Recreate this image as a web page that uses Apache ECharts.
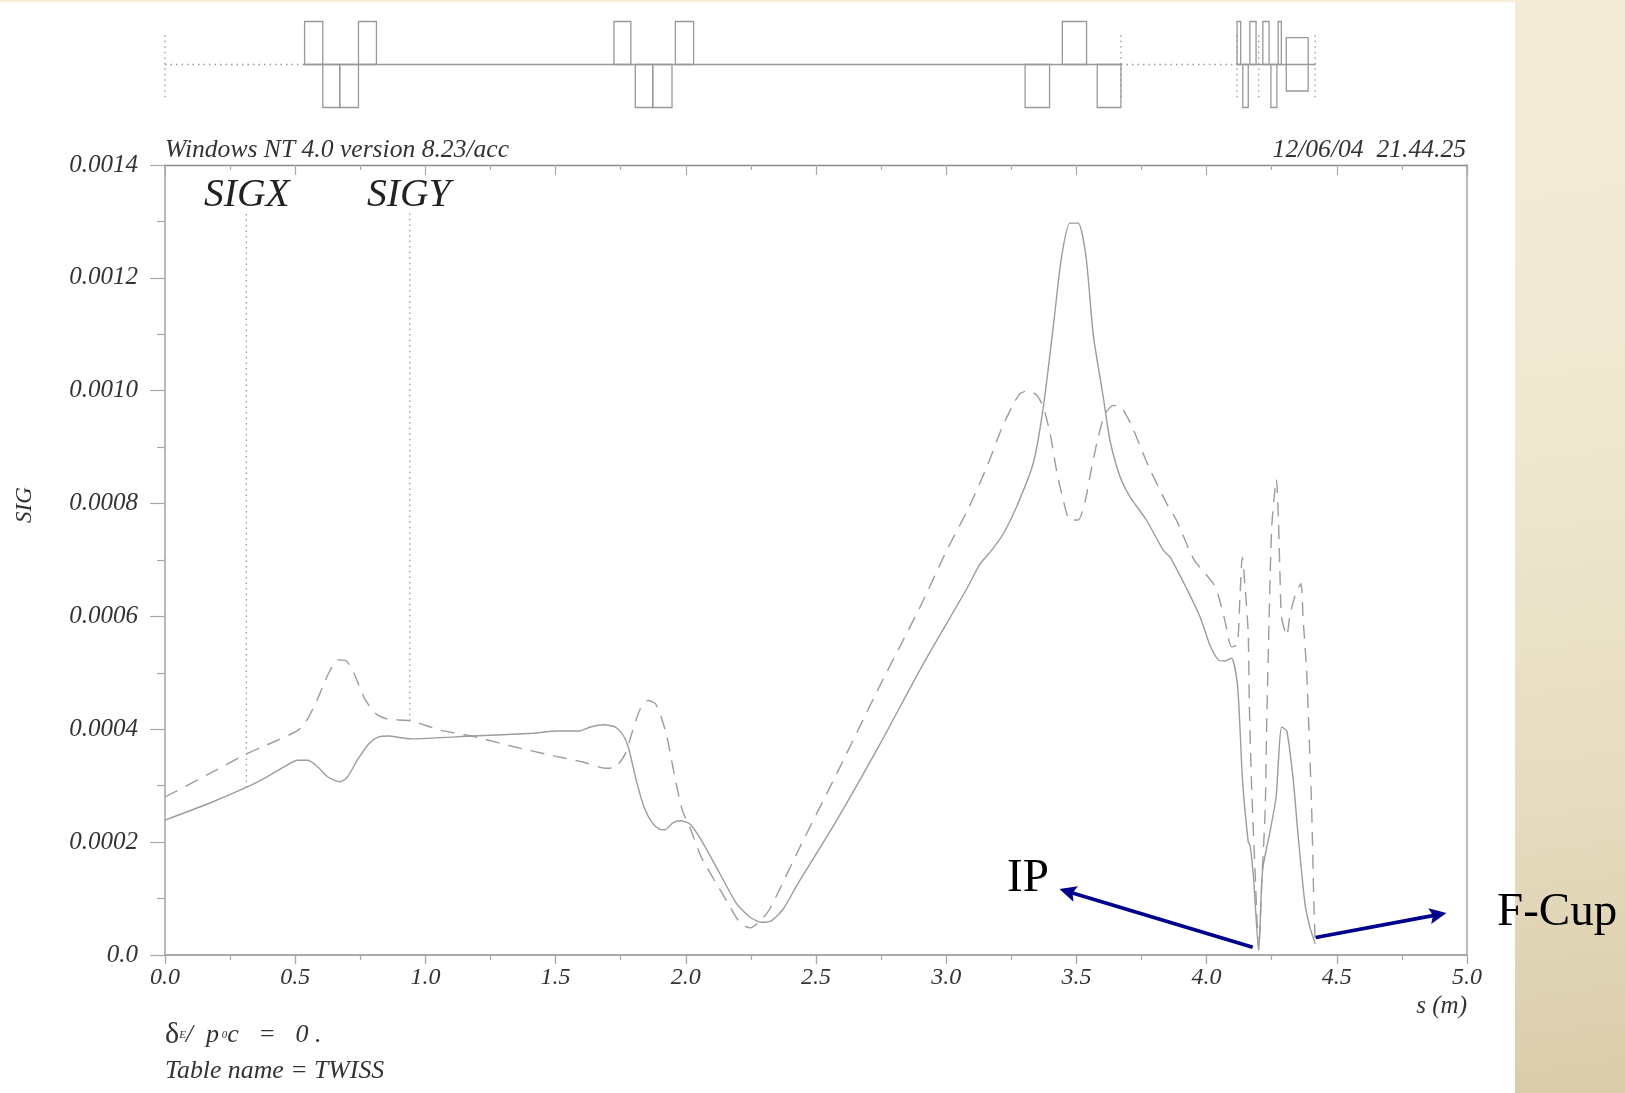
<!DOCTYPE html>
<html><head><meta charset="utf-8">
<style>
html,body{margin:0;padding:0;width:1625px;height:1093px;overflow:hidden;background:#fff}
#panel{position:absolute;left:1515px;top:0;width:110px;height:1093px;background:linear-gradient(172deg,#f2ebd6 0%,#f0e9d2 35%,#e6dcbf 72%,#d9ccaa 100%)}
#strip{position:absolute;left:0;top:0;width:1515px;height:2px;background:#f6eed8}
#chart{position:absolute;left:0;top:0;width:1625px;height:1093px;filter:blur(.45px)}
</style>
<script src="https://cdn.jsdelivr.net/npm/echarts@6/dist/echarts.min.js"></script>
</head><body>
<div id="panel"></div><div id="strip"></div><div id="chart"></div>
<script>
// s (m) and SIG (in units of 1e-4 m)
const sigxS=[0,.165,.312,.385,.459,.51,.547,.583,.627,.672,.70,.738,.782,.818,.855,.944,1.179,1.414,1.502,1.59,1.634,1.686,1.73,1.76,1.781,1.81,1.84,1.87,1.899,1.921,1.95,1.98,2.016,2.06,2.131,2.195,2.247,2.291,2.33,2.375,2.426,2.58,2.746,2.912,3.079,3.13,3.174,3.22,3.27,3.334,3.373,3.411,3.443,3.475,3.507,3.537,3.565,3.603,3.629,3.668,3.706,3.77,3.834,3.86,3.93,3.975,4.013,4.045,4.07,4.096,4.118,4.128,4.138,4.16,4.167,4.18,4.2,4.215,4.244,4.267,4.276,4.288,4.308,4.333,4.352,4.378,4.397,4.417];
const sigxV=[2.39,2.68,2.97,3.14,3.34,3.45,3.45,3.35,3.15,3.07,3.15,3.45,3.74,3.86,3.88,3.83,3.88,3.93,3.97,3.97,4.04,4.08,4.04,3.89,3.65,3.09,2.62,2.35,2.23,2.22,2.34,2.38,2.32,2.03,1.44,.91,.67,.58,.61,.82,1.23,2.39,3.74,5.16,6.49,6.93,7.17,7.47,7.94,8.71,9.71,11.13,12.37,12.97,12.97,12.37,10.98,9.89,9.12,8.47,8.12,7.70,7.17,7.05,6.43,5.99,5.49,5.23,5.21,5.26,4.81,4.04,3.09,2.0,1.94,1.38,.08,1.5,2.2,2.8,3.45,4.04,3.97,3.09,2.09,.9,.49,.2];
const sigyS=[0,.165,.312,.385,.51,.547,.583,.627,.664,.694,.724,.767,.811,.855,.944,1.06,1.179,1.34,1.502,1.605,1.693,1.73,1.767,1.796,1.825,1.855,1.884,1.906,1.928,1.958,1.987,2.016,2.06,2.144,2.208,2.247,2.285,2.323,2.438,2.592,2.746,2.9,3.002,3.085,3.156,3.213,3.252,3.284,3.316,3.348,3.373,3.399,3.424,3.45,3.475,3.507,3.533,3.559,3.584,3.61,3.642,3.674,3.712,3.776,3.847,3.885,3.95,4.026,4.045,4.07,4.096,4.118,4.128,4.137,4.147,4.16,4.164,4.173,4.186,4.2,4.212,4.225,4.231,4.24,4.25,4.268,4.276,4.282,4.288,4.308,4.32,4.34,4.362,4.371,4.384,4.394,4.403,4.412,4.417];
const sigyV=[2.8,3.2,3.56,3.71,3.98,4.18,4.51,4.98,5.23,5.22,5.01,4.54,4.27,4.18,4.15,3.98,3.88,3.69,3.52,3.42,3.31,3.33,3.56,3.98,4.36,4.51,4.45,4.21,3.86,3.15,2.56,2.26,1.73,1.06,.57,.48,.6,.82,1.91,3.33,4.78,6.17,7.17,7.91,8.65,9.33,9.71,9.95,10,9.92,9.71,9.24,8.58,8.05,7.71,7.71,8.03,8.65,9.18,9.59,9.74,9.69,9.38,8.67,8,7.7,7.02,6.58,6.37,5.93,5.46,5.51,6.34,7.05,6.58,5.69,4.45,2.97,1.5,.1,1.32,2.56,4.15,5.93,7.58,8.43,7.7,6.7,5.99,5.66,6.02,6.37,6.58,5.93,5.04,3.86,2.68,.9,.2];
// marker guides for the SIGX / SIGY labels: s, bottom, top
const guideS=[.3125,.94];
const guideLow=[2.97,4.15];
const guideHigh=[13.2,13.2];
// annotation arrows: from s, from SIG, to s, to SIG
const arrowIP=[4.177,.137,3.466,1.125];
const arrowCup=[4.419,.31,4.889,.715];
// machine layout: start s, end s, upper, lower
const elemS0=[.536,.606,.671,.743,1.724,1.806,1.873,1.96,3.303,3.446,3.58,4.117,4.139,4.166,4.216,4.247,4.275,4.306];
const elemS1=[.606,.671,.743,.812,1.789,1.873,1.947,2.03,3.397,3.539,3.671,4.131,4.16,4.19,4.24,4.27,4.287,4.39];
const elemHi=[1,0,0,1,1,0,0,1,0,1,0,1,0,1,1,0,1,.627];
const elemLo=[0,-1,-1,0,0,-1,-1,0,-1,0,-1,0,-1,0,0,-1,0,-.616];
const beamSolid=[[.536,3.671],[4.117,4.419]];
const beamDotted=[[0,.536],[3.671,4.117]];
const markerS=[0,3.671,4.117,4.2,4.417];

const FONT='"Liberation Serif"';
const INK='#333333', AXIS='#a8a8a8';
const ARROW='path://M5 0L10 13L5 10.5L0 13Z';
const zip=(a,b)=>a.map((v,i)=>[v,b[i]*1e-4]);
const series=[
 {type:'line',name:'SIGX',xAxisIndex:0,yAxisIndex:0,data:zip(sigxS,sigxV),showSymbol:false,symbol:'none',smooth:.22,lineStyle:{color:'#9c9c9c',width:1.4},z:3,
  markLine:{silent:true,animation:false,symbol:['none',ARROW],symbolSize:[16,17],label:{show:false},lineStyle:{color:'#00008f',width:3.8,type:'solid'},
   data:[arrowIP,arrowCup].map(a=>[{coord:[a[0],a[1]*1e-4]},{coord:[a[2],a[3]*1e-4]}])}},
 {type:'line',name:'SIGY',xAxisIndex:0,yAxisIndex:0,data:zip(sigyS,sigyV),showSymbol:false,symbol:'none',smooth:.22,lineStyle:{color:'#9c9c9c',width:1.4,type:[14,9]},z:3}
];
guideS.forEach((s,i)=>series.push({type:'line',xAxisIndex:0,yAxisIndex:0,data:[[s,guideLow[i]*1e-4],[s,guideHigh[i]*1e-4]],showSymbol:false,symbol:'none',lineStyle:{color:'#999',width:1.3,type:[1.5,4]},z:2}));
beamSolid.forEach(b=>series.push({type:'line',xAxisIndex:2,yAxisIndex:2,data:[[b[0],0],[b[1],0]],showSymbol:false,symbol:'none',lineStyle:{color:'#999',width:1.4}}));
beamDotted.forEach(b=>series.push({type:'line',xAxisIndex:2,yAxisIndex:2,data:[[b[0],0],[b[1],0]],showSymbol:false,symbol:'none',lineStyle:{color:'#999',width:1.3,type:[1.5,4]}}));
markerS.forEach(s=>series.push({type:'line',xAxisIndex:2,yAxisIndex:2,data:[[s,-.76],[s,.76]],showSymbol:false,symbol:'none',lineStyle:{color:'#999',width:1.3,type:[1.5,4]}}));
series.push({type:'custom',xAxisIndex:2,yAxisIndex:2,coordinateSystem:'cartesian2d',
 data:elemS0.map((s,i)=>[s,elemS1[i],elemHi[i],elemLo[i]]),
 encode:{x:[0,1],y:[2,3]},
 renderItem:(p,api)=>{
  const a=api.coord([api.value(0),api.value(2)]),b=api.coord([api.value(1),api.value(3)]);
  return {type:'rect',shape:{x:a[0],y:a[1],width:b[0]-a[0],height:b[1]-a[1]},style:{fill:'none',stroke:'#999',lineWidth:1.3}};
 }});

// text placed by the middle of its line: yMid = baseline - 0.3 * size
const label=(text,x,base,size,extra)=>({type:'text',x,y:base-.3*size,silent:true,style:Object.assign({text,font:`italic ${size}px ${FONT}`,fill:INK,verticalAlign:'middle'},extra||{})});
const chart=echarts.init(document.getElementById('chart'),null,{renderer:'canvas'});
chart.setOption({
 animation:false,
 grid:[{left:165,top:165,width:1302,height:790,containLabel:false},{left:165,top:21.5,width:1302,height:86}],
 xAxis:[
  {gridIndex:0,type:'value',min:0,max:5,interval:.5,position:'bottom',splitLine:{show:false},
   axisLine:{show:true,onZero:false,lineStyle:{color:AXIS,width:2.2}},
   axisTick:{show:true,length:9,lineStyle:{color:AXIS,width:1.3}},
   minorTick:{show:true,splitNumber:2,length:5,lineStyle:{color:AXIS,width:1.2}},
   axisLabel:{show:true,margin:11,fontFamily:FONT,fontStyle:'italic',fontSize:24,color:INK,formatter:v=>v.toFixed(1),hideOverlap:false,showMinLabel:true,showMaxLabel:true}},
  {gridIndex:0,type:'value',min:0,max:5,interval:.5,position:'top',splitLine:{show:false},
   axisLine:{show:true,onZero:false,lineStyle:{color:'#8a8a8a',width:1.4}},
   axisTick:{show:true,inside:true,length:10,lineStyle:{color:AXIS,width:1.2}},
   minorTick:{show:true,splitNumber:2,length:5,lineStyle:{color:AXIS,width:1.2}},
   axisLabel:{show:false}},
  {gridIndex:1,type:'value',min:0,max:5,show:false,splitLine:{show:false}}
 ],
 yAxis:[
  {gridIndex:0,type:'value',min:0,max:.0014,interval:.0002,position:'left',splitLine:{show:false},
   axisLine:{show:true,onZero:false,lineStyle:{color:AXIS,width:1.6}},
   axisTick:{show:true,length:15,lineStyle:{color:AXIS,width:1.2}},
   minorTick:{show:true,splitNumber:2,length:8,lineStyle:{color:AXIS,width:1.2}},
   axisLabel:{show:true,margin:27,fontFamily:FONT,fontStyle:'italic',fontSize:25,color:INK,formatter:v=>v===0?'0.0':v.toFixed(4),showMinLabel:true,showMaxLabel:true}},
  {gridIndex:0,type:'value',min:0,max:.0014,interval:.0002,position:'right',splitLine:{show:false},
   axisLine:{show:true,onZero:false,lineStyle:{color:'#bdbdbd',width:2.2}},axisTick:{show:false},axisLabel:{show:false}},
  {gridIndex:1,type:'value',min:-1,max:1,show:false,splitLine:{show:false}}
 ],
 series,
 graphic:[
  label('Windows NT 4.0 version 8.23/acc',165,158,25.6),
  label('12/06/04  21.44.25',1466,158,25.6,{align:'right'}),
  label('SIGX',204,207,39.5,{fill:'#222'}),
  label('SIGY',367,207,39.5,{fill:'#222'}),
  label('s (m)',1467,1014,25,{align:'right'}),
  label('Table name = TWISS',165,1079,25.8),
  {type:'text',x:25,y:505,rotation:Math.PI/2,silent:true,style:{text:'SIG',font:`italic 23px ${FONT}`,fill:INK,align:'center',verticalAlign:'middle'}},
  {type:'text',x:165,y:1035,silent:true,style:{
    rich:{
     d:{font:`30px ${FONT}`,fill:INK},
     m:{font:`italic 26px ${FONT}`,fill:INK},
     s:{font:`italic 11px ${FONT}`,fill:INK}
    },
    text:'{d|δ}{s|E}{m|/  p}{s| 0}{m|c   =   0 .}',fill:INK,verticalAlign:'middle'}},
  {type:'text',x:1007,y:879,silent:true,style:{text:'IP',font:`47px ${FONT}`,fill:'#000',verticalAlign:'middle'}},
  {type:'text',x:1497,y:913,silent:true,z:10,style:{text:'F-Cup',font:`47px ${FONT}`,fill:'#000',verticalAlign:'middle'}}
 ]
});
</script>
</body></html>
